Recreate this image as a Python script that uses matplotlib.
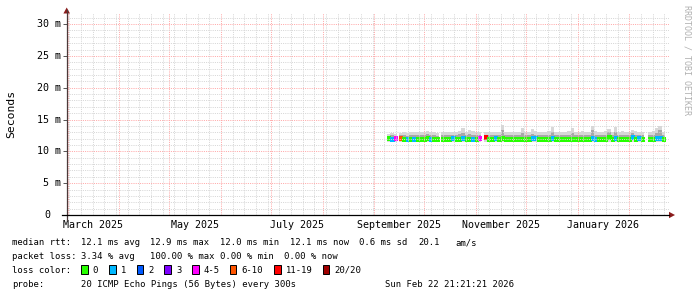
import numpy as np
import pandas as pd
import matplotlib
matplotlib.use("Agg")
import matplotlib.pyplot as plt
import matplotlib.dates as mdates
import matplotlib.transforms as mtransforms
from matplotlib.ticker import MultipleLocator
from matplotlib.patches import Rectangle, Polygon
from matplotlib.lines import Line2D

W, H = 697, 297
MONO = "DejaVu Sans Mono"

# --- data -----------------------------------------------------------------
# the graph has 5 runs of data, each made of 2-day bins
seg_start = ["2025-09-08 14:00", "2025-09-15 19:00", "2025-10-11 07:00",
             "2025-11-05 19:00", "2026-02-12 09:00"]
seg_bins = [3, 12, 12, 48, 5]
bin_days = 2

# median rtt in ms
median_ms = [12.1, 12.0, 12.1,
             12.1, 12.0, 11.9, 12.0, 11.9, 12.0, 12.0, 12.0, 12.1, 12.0, 12.0, 11.9,
             12.0, 12.0, 12.0, 12.1, 12.0, 12.0, 12.1, 12.0, 12.0, 12.0, 12.0, 12.1,
             12.2, 12.0, 12.0, 12.1, 12.0, 12.1, 12.0, 12.0, 12.0, 12.0, 12.0, 12.0,
             12.0, 12.0, 12.1, 12.1, 12.0, 12.0, 12.0, 12.0, 12.1, 12.0, 12.0, 12.0,
             12.0, 12.0, 12.0, 12.0, 12.0, 12.0, 12.0, 12.0, 12.1, 12.0, 12.0, 12.0,
             12.0, 12.2, 12.0, 12.1, 12.0, 12.0, 12.0, 12.0, 12.3, 12.0, 12.1, 12.0,
             12.0, 12.0, 12.1, 12.1, 12.0]
# index into loss_labels
loss_idx = [0, 1, 4,
            5, 0, 1, 0, 1, 0, 0, 0, 0, 1, 0, 0,
            0, 0, 0, 1, 0, 0, 1, 0, 0, 1, 0, 4,
            6, 0, 0, 1, 0, 0, 0, 0, 0, 0, 0, 0,
            0, 0, 1, 1, 0, 0, 0, 0, 1, 0, 0, 0,
            0, 0, 0, 0, 0, 0, 0, 0, 1, 1, 0, 0,
            0, 0, 0, 1, 0, 0, 0, 0, 1, 0, 1, 0,
            0, 0, 1, 1, 0]
# smoke: lowest ping, upper edge of dense part, highest ping (ms)
smoke_lo = [11.4, 11.4, 11.4,
            11.4, 11.4, 11.4, 11.5, 11.4, 11.4, 11.5, 11.4, 11.4, 11.4, 11.5, 11.4,
            11.5, 11.5, 11.4, 11.5, 11.5, 11.5, 11.5, 11.4, 11.5, 11.5, 11.5, 11.5,
            11.5, 11.5, 11.5, 11.5, 11.5, 11.4, 11.5, 11.5, 11.5, 11.5, 11.5, 11.5,
            11.5, 11.5, 11.5, 11.5, 11.5, 11.5, 11.5, 11.5, 11.5, 11.5, 11.5, 11.5,
            11.5, 11.5, 11.5, 11.5, 11.5, 11.5, 11.5, 11.5, 11.5, 11.5, 11.5, 11.5,
            11.5, 11.5, 11.5, 11.5, 11.5, 11.5, 11.5, 11.5, 11.5, 11.5, 11.5, 11.5,
            11.5, 11.5, 11.5, 11.5, 11.5]
smoke_mid = [12.4, 12.5, 12.4,
             12.5, 12.5, 12.4, 12.5, 12.5, 12.6, 12.5, 12.5, 12.7, 12.5, 12.5, 12.4,
             12.5, 12.5, 12.6, 12.5, 12.5, 12.7, 12.9, 12.5, 12.8, 12.6, 12.5, 12.5,
             12.6, 12.5, 12.5, 12.6, 12.5, 13.3, 12.5, 12.6, 12.5, 12.5, 12.5, 12.9,
             12.5, 12.6, 12.8, 12.6, 12.5, 12.5, 12.5, 12.6, 13.1, 12.5, 12.6, 12.5,
             12.5, 12.6, 12.9, 12.5, 12.5, 12.6, 12.5, 12.5, 13.3, 12.6, 12.5, 12.5,
             12.6, 13.0, 12.5, 13.0, 12.5, 12.6, 12.5, 12.5, 12.9, 12.6, 12.5, 12.5,
             12.5, 12.6, 12.9, 13.4, 12.5]
smoke_top = [12.8, 12.9, 12.8,
             12.9, 13.0, 12.9, 13.0, 13.0, 13.1, 13.0, 13.0, 13.2, 13.0, 13.1, 12.9,
             13.0, 13.1, 13.1, 13.0, 13.0, 13.2, 13.6, 13.1, 13.3, 13.2, 13.1, 13.0,
             13.1, 13.0, 13.1, 13.1, 13.0, 14.1, 13.0, 13.1, 13.0, 13.1, 13.0, 13.6,
             13.1, 13.1, 13.5, 13.2, 13.0, 13.1, 13.0, 13.2, 13.9, 13.0, 13.1, 13.0,
             13.1, 13.2, 13.7, 13.0, 13.1, 13.2, 13.0, 13.1, 14.0, 13.2, 13.1, 13.0,
             13.2, 13.5, 13.1, 13.8, 13.0, 13.2, 13.1, 13.0, 13.4, 13.2, 13.1, 13.0,
             13.1, 13.2, 13.6, 14.0, 13.1]

loss_labels = ["0", "1", "2", "3", "4-5", "6-10", "11-19", "20/20"]
loss_colors = ["#26ff00", "#00b8ff", "#0059ff", "#7e00ff",
               "#ff00ff", "#ff5500", "#ff0000", "#a00000"]

y_ticks = [0, 5, 10, 15, 20, 25, 30]
y_labels = ["0", "5 m", "10 m", "15 m", "20 m", "25 m", "30 m"]
label_months = ["2025-03-01", "2025-05-01", "2025-07-01",
                "2025-09-01", "2025-11-01", "2026-01-01"]
month_names = ["March 2025", "May 2025", "July 2025",
               "September 2025", "November 2025", "January 2026"]

# --- figure ---------------------------------------------------------------
def fx(x):
    return x / W

def fy(y):
    return 1 - y / H

fig = plt.figure(figsize=(W / 100, H / 100), dpi=100)
fig.patch.set_facecolor("white")
ax = fig.add_axes([fx(66.7), 82 / H, 602.3 / W, 202 / H])
ax.xaxis_date()

median_ms = np.array(median_ms)
loss_idx = np.array(loss_idx)
smoke_lo = np.array(smoke_lo)
smoke_mid = np.array(smoke_mid)
smoke_top = np.array(smoke_top)

pos = 0
for start, n in zip(seg_start, seg_bins):
    t = pd.date_range(start, periods=n + 1, freq=f"{bin_days}D")
    tn = mdates.date2num(t.to_pydatetime())
    s = slice(pos, pos + n)
    ext = lambda a: np.append(a[s], a[pos + n - 1])
    ax.fill_between(tn, ext(smoke_lo), ext(smoke_top), step="post",
                    color="#d8d8d8", lw=0, zorder=1)
    ax.fill_between(tn, ext(median_ms), ext(smoke_mid), step="post",
                    color="#a8a8a8", lw=0, zorder=1.2)
    ax.hlines(median_ms[s], tn[:-1], tn[1:],
              colors=[loss_colors[i] for i in loss_idx[s]],
              linewidth=2.2, zorder=2, antialiased=False)
    pos += n

ax.set_xlim(mdates.date2num(pd.Timestamp("2025-02-28 10:30")),
            mdates.date2num(pd.Timestamp("2026-02-24 19:30")))
ax.set_ylim(0, 31.75)

ax.xaxis.set_major_locator(mdates.MonthLocator())
ax.xaxis.set_minor_locator(mdates.WeekdayLocator(byweekday=mdates.SU))
ax.yaxis.set_major_locator(MultipleLocator(5))
ax.yaxis.set_minor_locator(MultipleLocator(1))
ax.set_axisbelow(False)
ax.grid(which="major", color="#ffa8a8", linestyle=(0, (1, 1.2)), linewidth=0.72)
ax.grid(which="minor", color="#d6d6d6", linestyle=(0, (1, 1.2)), linewidth=0.72)
ax.tick_params(which="both", bottom=False, labelbottom=False, labelleft=False)
ax.tick_params(which="major", axis="y", length=3, width=0.7, color="#555555")
ax.tick_params(which="minor", axis="y", length=0)
for sp in ax.spines.values():
    sp.set_visible(False)

# y labels
ty = mtransforms.blended_transform_factory(fig.transFigure, ax.transData)
for v, lab in zip(y_ticks, y_labels):
    xr = 60.5 if "m" in lab else 50.0
    ax.text(fx(xr), v, lab, transform=ty, ha="right", va="center",
            family=MONO, fontsize=7.2, color="black")

# month labels centered between month starts
tx = mtransforms.blended_transform_factory(ax.transData, fig.transFigure)
for m, name in zip(label_months, month_names):
    a = pd.Timestamp(m)
    b = a + pd.offsets.MonthBegin(1)
    mid = (mdates.date2num(a.to_pydatetime()) + mdates.date2num(b.to_pydatetime())) / 2
    ax.text(mid, fy(227.7), name, transform=tx, ha="center", va="baseline",
            family=MONO, fontsize=7.2, color="black")

# axis lines and arrows
fig.add_artist(Line2D([fx(66.7), fx(66.7)], [fy(220), fy(10)], color="#4a3a3a", lw=0.9))
fig.add_artist(Line2D([fx(62), fx(669)], [fy(215), fy(215)], color="black", lw=0.9))
fig.add_artist(Polygon([(fx(63.4), fy(13.5)), (fx(70.0), fy(13.5)), (fx(66.7), fy(7.5))],
                       closed=True, color="#8b1c1c", lw=0))
fig.add_artist(Polygon([(fx(669), fy(211.8)), (fx(669), fy(218.2)), (fx(675), fy(215))],
                       closed=True, color="#8b1c1c", lw=0))

fig.text(fx(11), fy(113.5), "Seconds", rotation=90, ha="center", va="center",
         family=MONO, fontsize=8.2)
fig.text(fx(687), fy(60), "RRDTOOL / TOBI OETIKER", rotation=270, ha="center",
         va="center", family=MONO, fontsize=6, color="#b0b0b0")

# legend block
fs = 6.4
line1 = [(12, "median rtt:"), (80.7, "12.1 ms avg"), (149.7, "12.9 ms max"),
         (220, "12.0 ms min"), (290, "12.1 ms now"), (359.3, "0.6 ms sd"),
         (418.3, "20.1"), (455, "am/s")]
line2 = [(12, "packet loss:"), (80.7, "3.34 % avg"), (149.7, "100.00 % max"),
         (220, "0.00 % min"), (284, "0.00 % now")]
line4 = [(12, "probe:"), (80.7, "20 ICMP Echo Pings (56 Bytes) every 300s"),
         (385, "Sun Feb 22 21:21:21 2026")]
for base, items in [(245, line1), (258.6, line2), (286.6, line4)]:
    for x, s in items:
        fig.text(fx(x), fy(base), s, ha="left", va="baseline", family=MONO, fontsize=fs)

fig.text(fx(12), fy(272.6), "loss color:", ha="left", va="baseline", family=MONO, fontsize=fs)
box_x = [81, 109, 136.7, 164.3, 192.3, 230, 274, 322.7]
for bx, lab, col in zip(box_x, loss_labels, loss_colors):
    fig.add_artist(Rectangle((fx(bx), fy(273.5)), 6.5 / W, 8.5 / H, facecolor=col,
                             edgecolor="black", lw=0.7))
    fig.text(fx(bx + 11.7), fy(272.6), lab, ha="left", va="baseline",
             family=MONO, fontsize=fs)

fig.savefig("out.png", dpi=100, facecolor="white")
